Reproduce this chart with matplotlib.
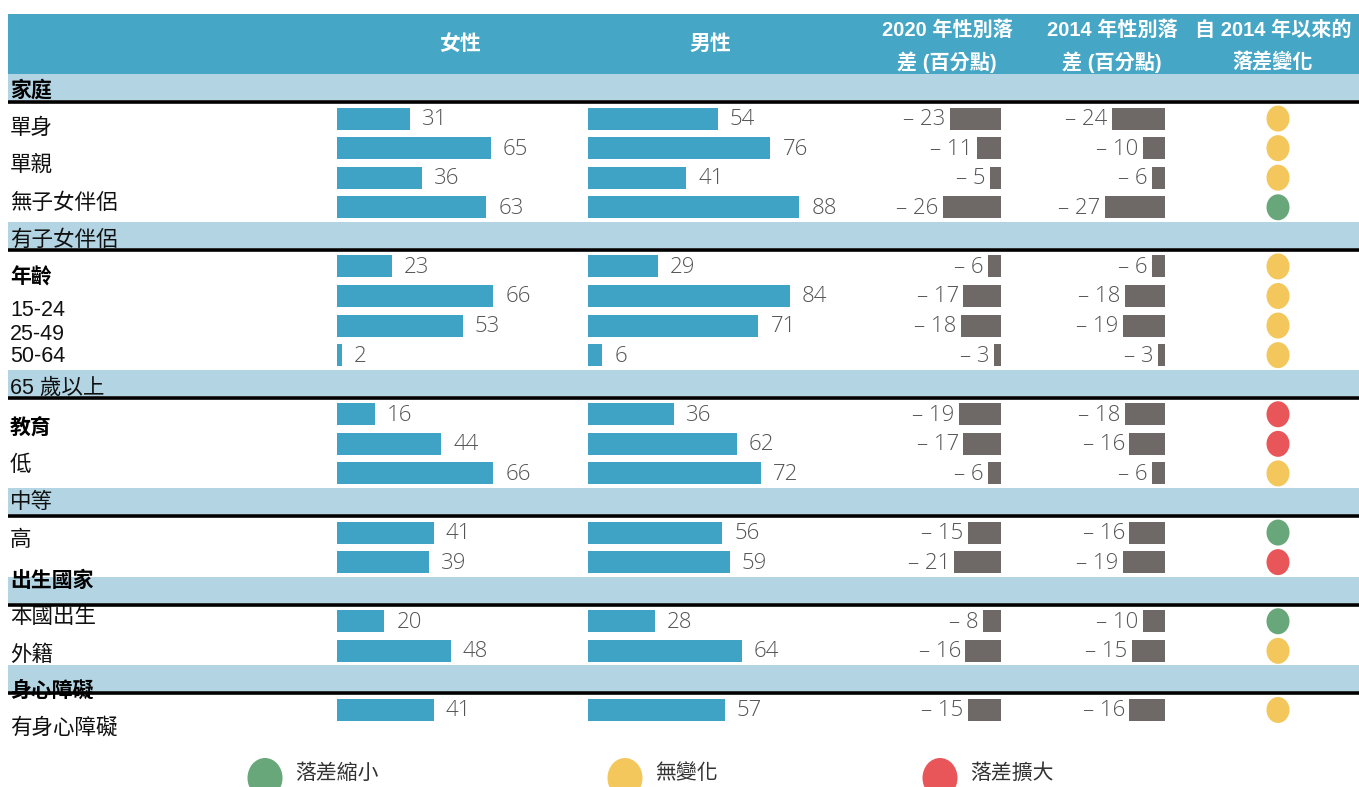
import matplotlib
matplotlib.use("Agg")
import matplotlib.pyplot as plt
from matplotlib.patches import Ellipse, Rectangle

plt.rcParams['font.family'] = ['Noto Sans CJK TC', 'DejaVu Sans']

# ---------------- data ----------------
sections = ['家庭', '年齡', '教育', '出生國家', '身心障礙']
group_sizes = [4, 4, 3, 2, 2, 1]
row_labels = ['單身', '單親', '無子女伴侶', '有子女伴侶',
              '15-24', '25-49', '50-64', '65 歲以上',
              '低', '中等', '高',
              '本國出生', '外籍', '有身心障礙']
women = [31, 65, 36, 63, 23, 66, 53, 2, 16, 44, 66, 41, 39, 20, 48, 41]
men = [54, 76, 41, 88, 29, 84, 71, 6, 36, 62, 72, 56, 59, 28, 64, 57]
gap_2020 = [-23, -11, -5, -26, -6, -17, -18, -3, -19, -17, -6, -15, -21, -8, -16, -15]
gap_2014 = [-24, -10, -6, -27, -6, -18, -19, -3, -18, -16, -6, -16, -19, -10, -15, -16]
trend = ['same', 'same', 'same', 'narrow',
         'same', 'same', 'same', 'same',
         'wide', 'wide', 'same',
         'narrow', 'wide',
         'narrow', 'same',
         'same']
legend_labels = {'narrow': '落差縮小', 'same': '無變化', 'wide': '落差擴大'}

# ---------------- styling / layout ----------------
W, H = 1359, 787
HEAD = '#46a6c6'
BAND = '#b2d4e3'
BAR = '#3fa3c5'
GREY = '#6e6867'
DOT = {'narrow': '#68a779', 'same': '#f3c75b', 'wide': '#e8565a'}
NUM_FONT = ['Open Sans', 'DejaVu Sans']
HEAD_FONT = ['Liberation Sans', 'Noto Sans CJK TC']

# slots: a band before every group, then its rows
pitch = 29.57
slot = 0
band_y, row_y = [], []
for n in group_sizes:
    band_y.append(89 + pitch * slot)
    slot += 1
    for _ in range(n):
        row_y.append(89 + pitch * slot)
        slot += 1

# left label positions (pixels from top)
sec_label_y = [90, 277, 427, 580, 690]
row_label_y = [128, 165, 203, 240, 310, 334, 357, 388,
               465, 502, 540, 617, 655, 728]

fig = plt.figure(figsize=(W / 100, H / 100), dpi=100)
base = fig.add_axes([0, 0, 1, 1])
base.set_xlim(0, W)
base.set_ylim(H, 0)
base.axis('off')

# header
base.add_patch(Rectangle((8, 14), W - 8, 60, color=HEAD, lw=0, zorder=1))
base.text(460, 43, '女性', color='white', fontsize=15, fontweight='bold',
          ha='center', va='center')
base.text(710, 43, '男性', color='white', fontsize=15, fontweight='bold',
          ha='center', va='center')
head_cols = [(947, '2020 年性別落', '差 (百分點)'),
             (1112, '2014 年性別落', '差 (百分點)'),
             (1273, '自 2014 年以來的', '落差變化')]
for x, l1, l2 in head_cols:
    base.text(x, 30, l1, color='white', fontsize=14.5, fontweight='bold',
              family=HEAD_FONT, ha='center', va='center')
    base.text(x, 62, l2, color='white', fontsize=14.5, fontweight='bold',
              family=HEAD_FONT, ha='center', va='center')

# section bands with thick rules under them
for y in band_y:
    base.add_patch(Rectangle((8, y - 15), W - 8, 26, color=BAND, lw=0, zorder=1))
    base.plot([8, W], [y + 13, y + 13], color='black', lw=2.6, zorder=5,
              solid_capstyle='butt')

# left labels
for lab, y in zip(sections, sec_label_y):
    base.text(10, y, lab, fontsize=15, fontweight='bold', ha='left',
              va='center', zorder=3)
for lab, y in zip(row_labels, row_label_y):
    fam = ['Liberation Sans', 'Noto Sans CJK TC'] if lab[0].isdigit() else None
    base.text(10, y, lab, fontsize=15.5, ha='left', va='center', zorder=3,
              family=fam, color='#111111')

# trend dots
for y, t in zip(row_y, trend):
    base.add_patch(Ellipse((1278, y), 23, 26, color=DOT[t], lw=0, zorder=3))

# legend
for x, key in [(265, 'narrow'), (625, 'same'), (940, 'wide')]:
    base.add_patch(Ellipse((x, 778), 35, 40, color=DOT[key], lw=0, zorder=3))
    base.text(x + 30, 773, legend_labels[key], fontsize=15, ha='left',
              va='center', color='#333333')


def column_axes(x0, x1, xlim):
    ax = fig.add_axes([x0 / W, 0, (x1 - x0) / W, 1])
    ax.set_xlim(*xlim)
    ax.set_ylim(H, 0)
    ax.axis('off')
    return ax


# women / men bars
for vals, x0, scale in [(women, 337, 2.37), (men, 588, 2.40)]:
    ax = column_axes(x0, x0 + 100 * scale, (0, 100))
    ax.barh(row_y, vals, height=22, color=BAR, lw=0)
    for y, v in zip(row_y, vals):
        ax.text(v + 5, y + 1, str(v), fontsize=16, family=NUM_FONT,
                fontweight='light', color='#555555', ha='left', va='center',
                clip_on=False)

# gap bars
for vals, x1 in [(gap_2020, 1001), (gap_2014, 1165)]:
    ax = column_axes(x1 - 30 * 2.22, x1, (-30, 0))
    ax.barh(row_y, vals, height=22, color=GREY, lw=0)
    for y, v in zip(row_y, vals):
        ax.text(v - 2, y + 1, '– %d' % abs(v), fontsize=16, family=NUM_FONT,
                fontweight='light', color='#555555', ha='right', va='center',
                clip_on=False)

fig.savefig('out.png', dpi=100)
